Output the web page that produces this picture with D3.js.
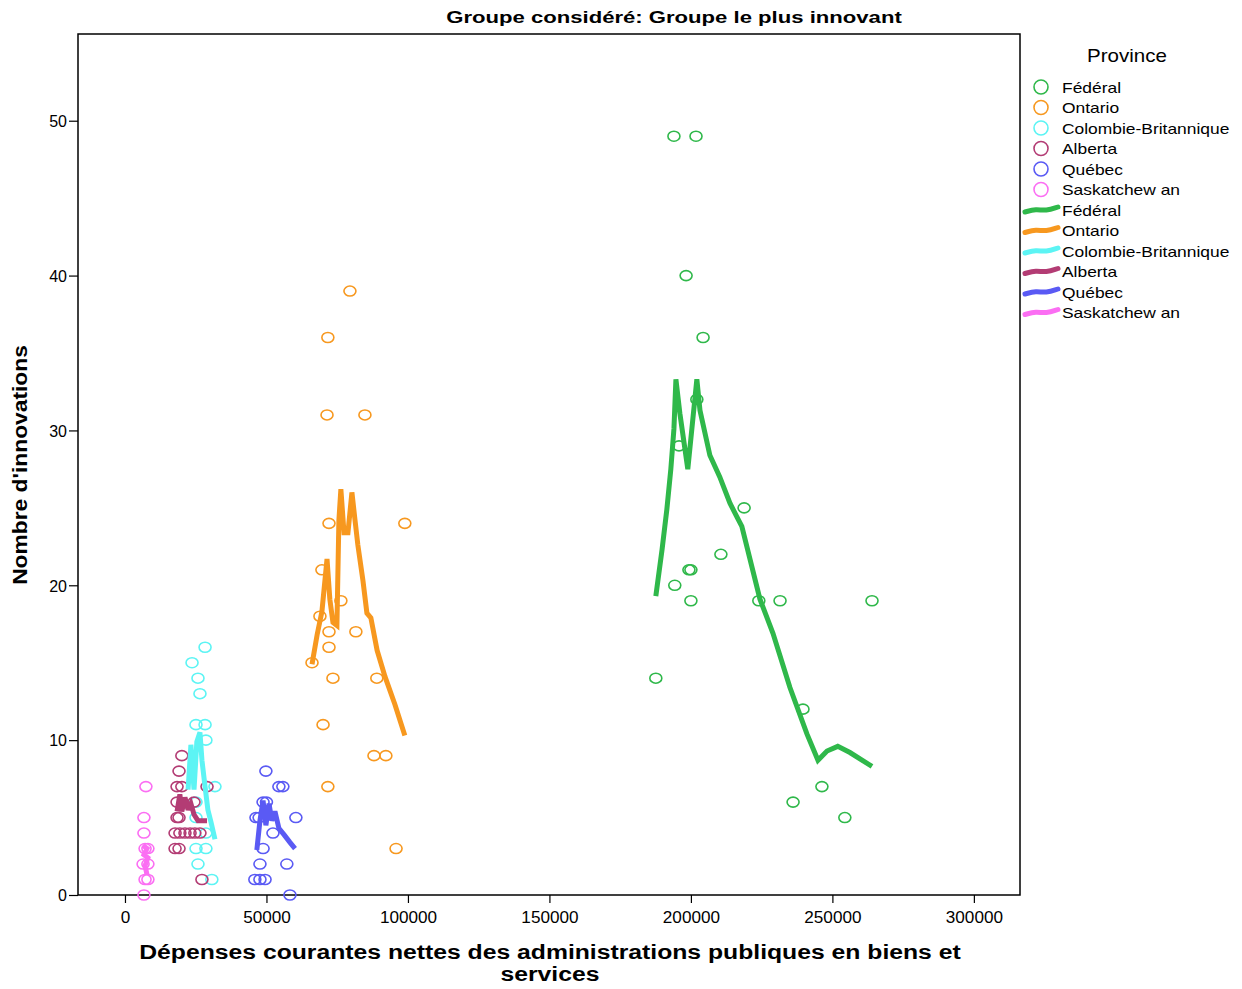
<!DOCTYPE html>
<html>
<head>
<meta charset="utf-8">
<script src="https://cdn.jsdelivr.net/npm/d3@7"></script>
<style>
  body { margin: 0; background: #fff; }
  text { font-family: "Liberation Sans", Arial, sans-serif; }
</style>
</head>
<body>
<script>
// data: points [depenses, innovations]
var federalPts = [[194000,49],[201800,49],[198300,40],[204300,36],[202100,32],[195800,29],[218800,25],[210600,22],[194300,20],[199300,21],[200000,21],[200000,19],[224000,19],[231500,19],[264000,19],[187600,14],[239600,12],[246300,7],[236100,6],[254400,5]];
var ontarioPts = [[79500,39],[71700,36],[71400,31],[84800,31],[72100,24],[98900,24],[69600,21],[76300,19],[68900,18],[72100,17],[81600,17],[72100,16],[66100,15],[73500,14],[89000,14],[70000,11],[88000,9],[92200,9],[71700,7],[95800,3]];
var cbPts = [[28300,16],[23700,15],[25800,14],[26500,13],[25100,11],[28300,11],[28600,10],[31800,7],[25100,6],[25100,5],[28600,4],[25100,3],[28600,3],[25800,2],[30700,1]];
var albertaPts = [[20100,9],[19100,8],[18400,7],[20100,7],[29000,7],[18400,6],[24400,6],[18400,5],[19100,5],[17700,4],[19400,4],[21200,4],[23000,4],[24700,4],[26500,4],[17700,3],[19100,3],[27200,1]];
var quebecPts = [[49800,8],[54400,7],[55800,7],[48800,6],[50000,6],[46300,5],[47400,5],[60400,5],[52300,4],[48800,3],[47700,2],[57200,2],[45900,1],[47700,1],[49500,1],[58300,0]];
var saskPts = [[7400,7],[6700,5],[6700,4],[7100,3],[8100,3],[6400,2],[8100,2],[7100,1],[8100,1],[6700,0]];

// data: fit lines
var federalFit = [[187600,19.3],[189800,22.3],[191500,24.9],[192900,27.5],[194000,30.1],[194700,33.3],[196100,31.1],[198900,27.5],[202100,33.3],[203200,31.3],[206700,28.4],[210200,27.0],[213800,25.3],[216300,24.4],[218000,23.8],[224400,19.1],[229000,16.9],[235000,13.4],[241000,10.4],[244900,8.7],[248100,9.3],[251900,9.6],[256200,9.2],[264000,8.3]];
var ontarioFit = [[66100,14.9],[67900,16.8],[69600,18.3],[71400,21.7],[72400,19.1],[73500,17.6],[74900,17.4],[75600,24.2],[76300,26.2],[77400,23.4],[78800,23.4],[80200,26.0],[81300,24.2],[82300,22.6],[84100,20.3],[85500,18.2],[86900,17.9],[89100,15.8],[91900,14.1],[95400,12.3],[98900,10.3]];
var cbFit = [[22300,6.8],[23300,9.7],[24400,6.8],[25400,9.9],[26500,10.5],[27200,8.7],[28300,7.0],[29300,5.5],[30400,4.7],[31800,3.6]];
var albertaFit = [[18400,5.4],[19400,6.5],[20100,5.4],[21200,6.3],[22300,5.5],[23300,5.9],[24400,5.2],[25800,4.8],[29000,4.8]];
var quebecFit = [[46600,2.9],[47700,4.8],[48800,6.1],[49800,4.5],[50900,5.9],[51900,4.8],[53000,5.4],[54400,4.3],[56200,3.9],[58300,3.4],[60100,3.0]];
var saskFit = [[6400,3.2],[7800,3.0],[6700,2.6],[8100,2.4],[7100,1.9],[7800,1.3]];

var provinceNames = ['Fédéral', 'Ontario', 'Colombie-Britannique', 'Alberta', 'Québec', 'Saskatchew an'];
var xTicks = [0, 50000, 100000, 150000, 200000, 250000, 300000];
var yTicks = [0, 10, 20, 30, 40, 50];

var colors = ['#2fb84a', '#f7981f', '#5cf4f4', '#b33c74', '#5a5af4', '#fb6ef3'];
var allPts = [federalPts, ontarioPts, cbPts, albertaPts, quebecPts, saskPts];
var allFits = [federalFit, ontarioFit, cbFit, albertaFit, quebecFit, saskFit];

var W = 1242, H = 989;
var plot = { left: 78, top: 34, right: 1020, bottom: 895 };

var svg = d3.select('body').append('svg')
	.attr('width', W)
	.attr('height', H);

// the original font is drawn wider than Liberation Sans, so stretch text
function stretch (sel, k) {
	sel.each(function () {
		var len = this.getComputedTextLength();
		d3.select(this)
			.attr('textLength', len * k)
			.attr('lengthAdjust', 'spacingAndGlyphs');
	});
}

var x = d3.scaleLinear().domain([-16600, 316300]).range([plot.left, plot.right]);
var y = d3.scaleLinear().domain([0, 55.6]).range([plot.bottom, plot.top]);

// frame
svg.append('rect')
	.attr('x', plot.left).attr('y', plot.top)
	.attr('width', plot.right - plot.left)
	.attr('height', plot.bottom - plot.top)
	.attr('fill', 'none')
	.attr('stroke', '#000')
	.attr('stroke-width', 1.5);

// axes
var xAxis = d3.axisBottom(x).tickValues(xTicks).tickSize(8).tickFormat(d3.format('d'));
var yAxis = d3.axisLeft(y).tickValues(yTicks).tickSize(9).tickFormat(d3.format('d'));

var gx = svg.append('g')
	.attr('transform', 'translate(0,' + plot.bottom + ')')
	.call(xAxis);
var gy = svg.append('g')
	.attr('transform', 'translate(' + plot.left + ',0)')
	.call(yAxis);
[gx, gy].forEach(function (g) {
	g.select('.domain').remove();
	g.selectAll('line').attr('stroke', '#000').attr('stroke-width', 1.2);
	g.selectAll('text').attr('fill', '#000').style('font-size', '16px').style('font-family', '"Liberation Sans", Arial, sans-serif');
});
gx.selectAll('text').attr('dy', '1.05em');
gy.selectAll('text').attr('x', -11).attr('dy', '0.36em');
stretch(gx.selectAll('text'), 1.07);

// circles
allPts.forEach(function (pts, i) {
	svg.append('g').selectAll('ellipse')
		.data(pts).enter()
		.append('ellipse')
		.attr('cx', function (d) { return x(d[0]); })
		.attr('cy', function (d) { return y(d[1]); })
		.attr('rx', 6)
		.attr('ry', 5)
		.attr('fill', 'none')
		.attr('stroke', colors[i])
		.attr('stroke-width', 1.6);
});

// fit lines
var line = d3.line()
	.x(function (d) { return x(d[0]); })
	.y(function (d) { return y(d[1]); });

allFits.forEach(function (fit, i) {
	svg.append('path')
		.datum(fit)
		.attr('d', line)
		.attr('fill', 'none')
		.attr('stroke', colors[i])
		.attr('stroke-width', 5)
		.attr('stroke-linejoin', 'miter')
		.attr('stroke-miterlimit', 3);
});

// titles
svg.append('text')
	.attr('x', 674).attr('y', 23)
	.attr('text-anchor', 'middle')
	.style('font-size', '17px').style('font-weight', 'bold')
	.text('Groupe considéré: Groupe le plus innovant')
	.call(stretch, 1.3);

svg.append('text')
	.attr('transform', 'translate(27,465) rotate(-90)')
	.attr('text-anchor', 'middle')
	.style('font-size', '20px').style('font-weight', 'bold')
	.text("Nombre d'innovations")
	.call(stretch, 1.14);

svg.append('text')
	.attr('x', 550).attr('y', 959)
	.attr('text-anchor', 'middle')
	.style('font-size', '20px').style('font-weight', 'bold')
	.text('Dépenses courantes nettes des administrations publiques en biens et')
	.call(stretch, 1.236);
svg.append('text')
	.attr('x', 550).attr('y', 981)
	.attr('text-anchor', 'middle')
	.style('font-size', '20px').style('font-weight', 'bold')
	.text('services')
	.call(stretch, 1.236);

// legend
var legend = svg.append('g');
legend.append('text')
	.attr('x', 1127).attr('y', 62)
	.attr('text-anchor', 'middle')
	.style('font-size', '19px')
	.text('Province')
	.call(stretch, 1.08);

var rowY = function (k) { return 87 + k * 20.5; };
provinceNames.forEach(function (name, i) {
	legend.append('circle')
		.attr('cx', 1041).attr('cy', rowY(i))
		.attr('r', 7)
		.attr('fill', 'none')
		.attr('stroke', colors[i])
		.attr('stroke-width', 1.6);
	legend.append('text')
		.attr('x', 1062).attr('y', rowY(i) + 5.5)
		.style('font-size', '15px')
		.text(name)
		.call(stretch, 1.16);
});

var wave = d3.line().curve(d3.curveBasis);
provinceNames.forEach(function (name, i) {
	var cy = rowY(i + 6);
	legend.append('path')
		.attr('d', wave([[1025, cy + 2], [1036, cy - 1], [1046, cy + 1], [1058, cy - 3]]))
		.attr('fill', 'none')
		.attr('stroke', colors[i])
		.attr('stroke-width', 5)
		.attr('stroke-linecap', 'round');
	legend.append('text')
		.attr('x', 1062).attr('y', cy + 5.5)
		.style('font-size', '15px')
		.text(name)
		.call(stretch, 1.16);
});
</script>
</body>
</html>
